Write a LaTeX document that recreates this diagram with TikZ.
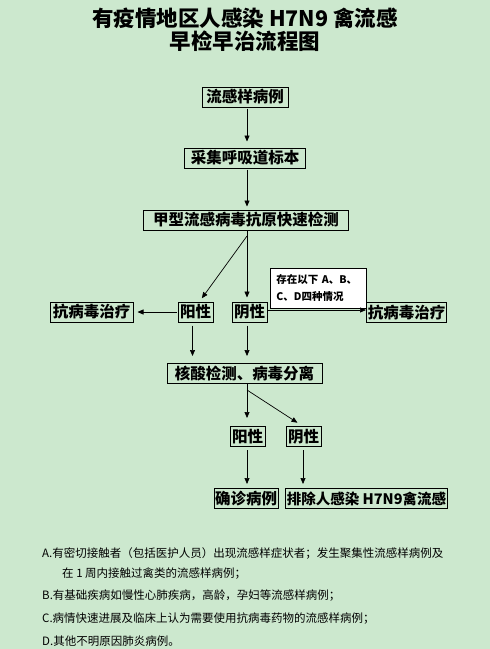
\documentclass[tikz,border=0pt]{standalone}
\usepackage{fontspec}
\setmainfont{Noto Sans CJK SC}
\usetikzlibrary{arrows.meta}
\definecolor{paperbg}{RGB}{204,232,206}

\begin{document}
\begin{tikzpicture}[x=1pt,y=-1pt,
    every node/.style={font=\bfseries\fontsize{15.5}{17}\selectfont},
    stepbox/.style={draw=black,line width=1pt,inner xsep=1pt,inner ysep=0pt,minimum height=20pt},
    notebox/.style={draw=black,fill=white,line width=0.8pt,font=\bfseries\fontsize{10.5}{17}\selectfont,
      align=left,text width=84pt,inner xsep=6pt,inner ysep=3pt,minimum height=40pt,anchor=north west},
    notetext/.style={font=\fontsize{11.5}{13}\selectfont,anchor=west,inner sep=0pt},
    link/.style={line width=0.7pt,-{Triangle[length=6pt,width=5pt]}}]
  \fill[paperbg] (0,0) rectangle (490,649);
  \useasboundingbox (0,0) rectangle (490,649);
  % title
  \node[font=\bfseries\fontsize{21.5}{24}\selectfont] (title1) at (245,18.5) {有疫情地区人感染 H7N9 禽流感};
  \node[font=\bfseries\fontsize{21.5}{24}\selectfont] (title2) at (245,41.5) {早检早治流程图};
  % main column
  \node[stepbox,minimum width=86pt] (case) at (245,97) {流感样病例};
  \node[stepbox,minimum width=121pt] (sample) at (245,158) {采集呼吸道标本};
  \node[stepbox,minimum width=205pt] (rapid) at (246,220) {甲型流感病毒抗原快速检测};
  \node[stepbox,minimum width=35pt] (posA) at (195.5,312) {阳性};
  \node[stepbox,minimum width=35pt] (negA) at (249.5,312) {阴性};
  \node[stepbox,minimum width=83pt] (treatL) at (91.5,312) {抗病毒治疗};
  \node[stepbox,minimum width=80pt] (treatR) at (406.5,312.5) {抗病毒治疗};
  \node[notebox] (cond) at (270,268) {存在以下 A、B、\\C、D四种情况};
  \node[stepbox,minimum width=155pt] (nat) at (244.5,373.5) {核酸检测、病毒分离};
  \node[stepbox,minimum width=35pt] (posB) at (247.5,436.5) {阳性};
  \node[stepbox,minimum width=35pt] (negB) at (303.5,436.5) {阴性};
  \node[stepbox,minimum width=64pt] (confirm) at (246,498.5) {确诊病例};
  \node[stepbox,minimum width=159pt,font=\bfseries\fontsize{14.5}{17}\selectfont] (exclude) at (366.5,498.5) {排除人感染 H7N9禽流感};
  \coordinate (fork1) at (247,236);
  \coordinate (fork2) at (247,390);
  % connectors
  \draw[link,shorten <=1pt,shorten >=6pt] (case.south -| fork1) -- (sample.north -| fork1);
  \draw[link,shorten <=1pt,shorten >=3pt] (sample.south -| fork1) -- (rapid.north -| fork1);
  \draw[line width=0.7pt] (rapid.south -| fork1) -- (fork1);
  \draw[link,shorten >=4pt] (fork1) -- ([xshift=4pt]posA.north);
  \draw[link,shorten >=4pt] (fork1) -- (negA.north -| fork1);
  \draw[link,shorten <=1pt,shorten >=4pt] (posA.west) -- (treatL.east);
  \draw[link] ([yshift=2pt]negA.east) -- ([yshift=2pt]negA.east -| treatR.west);
  \draw[link,shorten <=3pt,shorten >=7pt] ([xshift=-3pt]posA.south) -- ([xshift=-3pt]posA.south |- nat.north);
  \draw[link,shorten <=3pt,shorten >=7pt] (negA.south -| fork1) -- (nat.north -| fork1);
  \draw[line width=0.7pt] (nat.south -| fork2) -- (fork2);
  \draw[link,shorten >=8pt] (fork2) -- (posB.north -| fork2);
  \draw[link,shorten >=6pt] (fork2) -- ([xshift=-1pt]negB.north);
  \draw[link,shorten <=3pt,shorten >=4pt] (posB.south -| fork2) -- (confirm.north -| fork2);
  \draw[link,shorten <=3pt,shorten >=4pt] ([xshift=-0.5pt]negB.south) -- ([xshift=-0.5pt]negB.south |- exclude.north);
  % notes
  \node[notetext] (noteA) at (42,553) {A.有密切接触者（包括医护人员）出现流感样症状者；发生聚集性流感样病例及};
  \node[notetext] (noteA2) at (62,574) {在 1 周内接触过禽类的流感样病例；};
  \node[notetext] (noteB) at (42,596) {B.有基础疾病如慢性心肺疾病，高龄，孕妇等流感样病例；};
  \node[notetext] (noteC) at (42,619) {C.病情快速进展及临床上认为需要使用抗病毒药物的流感样病例；};
  \node[notetext] (noteD) at (42,641) {D.其他不明原因肺炎病例。};
\end{tikzpicture}
\end{document}
